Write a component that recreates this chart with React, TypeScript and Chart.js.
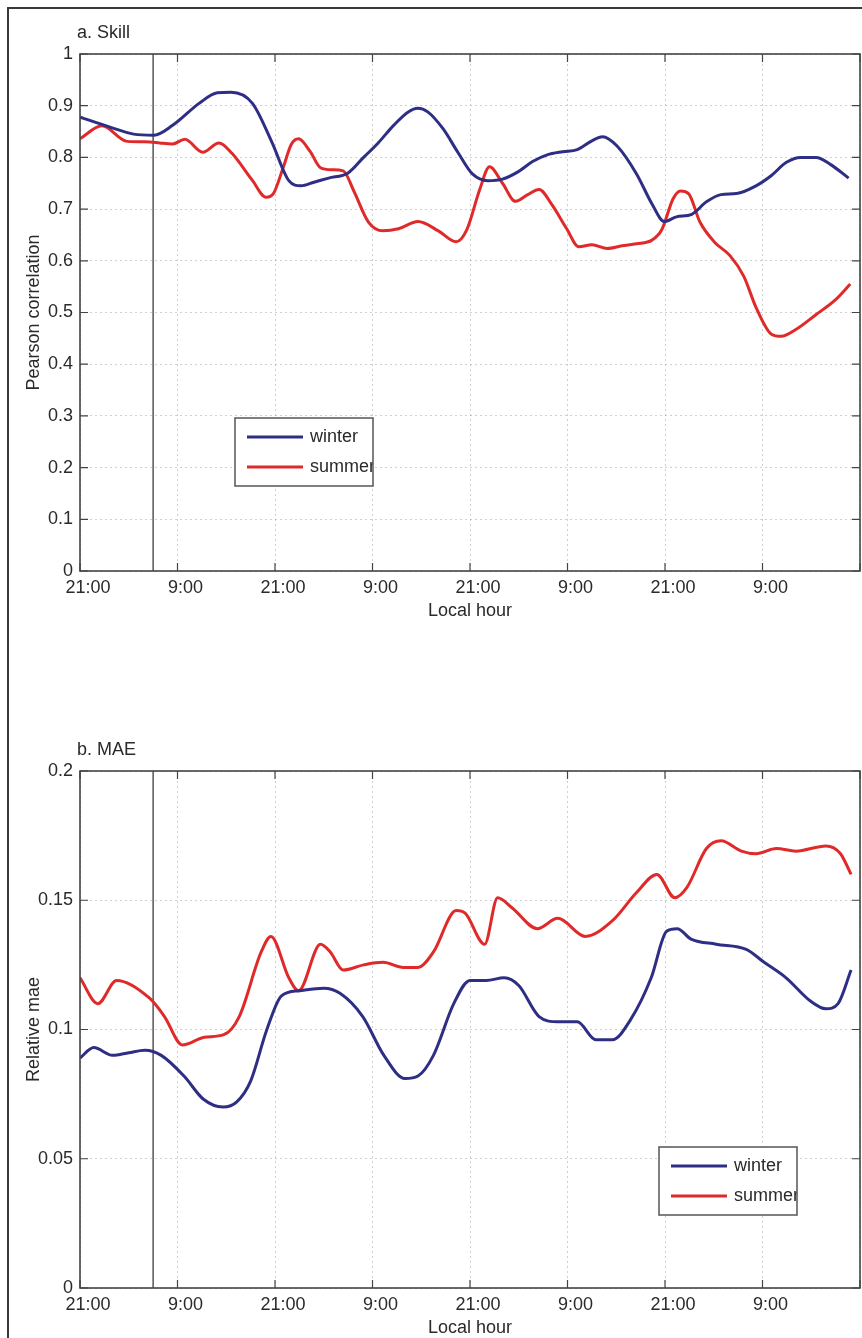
import React, { useEffect, useRef } from 'react';
import { Chart, registerables } from 'chart.js';

Chart.register(...registerables);

const FONT = "'Liberation Sans', Arial, Helvetica, sans-serif";
const TEXT_COLOR = '#2a2a2a';

// ---- shared categories / ticks ----
const seriesNames = ['winter', 'summer'];
const seriesColors = ['#2e2e84', '#e02a2a'];
const xTickHours = [0, 12, 24, 36, 48, 60, 72, 84, 96];
const xTickLabels = ['21:00', '9:00', '21:00', '9:00', '21:00', '9:00', '21:00', '9:00', ''];
const markerHour = 9;
const skillTicks = [0, 0.1, 0.2, 0.3, 0.4, 0.5, 0.6, 0.7, 0.8, 0.9, 1];
const skillTickLabels = ['0', '0.1', '0.2', '0.3', '0.4', '0.5', '0.6', '0.7', '0.8', '0.9', '1'];
const maeTicks = [0, 0.05, 0.1, 0.15, 0.2];
const maeTickLabels = ['0', '0.05', '0.1', '0.15', '0.2'];

// ---- panel a: Pearson correlation ----
const winterSkillHours = [0, 3.6, 6.6, 9.1, 11.4, 14.7, 16.9, 18.6, 21.2, 23.6, 25.7, 27.2, 28.8, 30.6, 33.0, 34.9, 36.7, 38.6, 40.4, 41.6, 42.8, 44.7, 46.5, 48.3, 50.2, 52.0, 53.9, 55.7, 57.5, 59.4, 61.2, 63.0, 64.3, 66.1, 68.5, 70.4, 71.9, 73.4, 75.3, 77.1, 78.9, 80.8, 83.2, 85.1, 86.9, 88.7, 90.6, 92.4, 94.6];
const winterSkill = [0.878, 0.859, 0.845, 0.843, 0.862, 0.905, 0.925, 0.926, 0.905, 0.83, 0.755, 0.745, 0.752, 0.76, 0.77, 0.8, 0.828, 0.862, 0.888, 0.895, 0.888, 0.855, 0.81, 0.768, 0.755, 0.758, 0.772, 0.792, 0.805, 0.811, 0.815, 0.832, 0.84, 0.822, 0.768, 0.71, 0.676, 0.685, 0.69, 0.714, 0.728, 0.73, 0.745, 0.765, 0.79, 0.8, 0.8, 0.786, 0.76];

const summerSkillHours = [0, 2.7, 5.8, 8.6, 9.8, 11.4, 12.9, 15.1, 17.1, 18.7, 21.2, 22.9, 23.8, 25.0, 26.0, 26.9, 28.3, 29.6, 31.0, 32.4, 33.7, 35.5, 37.3, 39.2, 41.6, 44.1, 46.3, 47.6, 49.2, 50.4, 52.0, 53.6, 55.1, 56.5, 58.1, 59.9, 61.4, 63.0, 64.9, 66.7, 68.5, 70.4, 71.6, 73.0, 73.9, 74.9, 76.3, 78.1, 80.0, 81.7, 83.2, 85.1, 86.3, 88.1, 90.6, 93.0, 94.8];
const summerSkill = [0.836, 0.861, 0.831, 0.83, 0.828, 0.826, 0.835, 0.81, 0.828, 0.808, 0.756, 0.723, 0.73, 0.78, 0.825, 0.836, 0.812, 0.78, 0.776, 0.774, 0.735, 0.675, 0.658, 0.662, 0.676, 0.658, 0.637, 0.66, 0.738, 0.782, 0.75, 0.715, 0.728, 0.738, 0.708, 0.662, 0.627, 0.631, 0.624, 0.629, 0.633, 0.64, 0.66, 0.72, 0.735, 0.73, 0.675, 0.636, 0.61, 0.57, 0.51, 0.458, 0.454, 0.467, 0.496, 0.525, 0.555];

// ---- panel b: relative MAE ----
const winterMaeHours = [0, 1.7, 4, 6, 8, 10, 12.8, 15.2, 17.6, 19.3, 21, 23, 24.8, 27, 30, 32, 34.8, 37.4, 40, 41.6, 43.5, 46, 48, 50, 52.2, 54, 56.5, 58.8, 61.2, 63.5, 65.5, 67.8, 70.3, 72.2, 73.5, 75.2, 78.3, 82, 84.2, 86.9, 89.9, 91.8, 93.3, 94.9];
const winterMae = [0.089, 0.093, 0.09, 0.091, 0.092, 0.09, 0.082, 0.073, 0.07, 0.072, 0.08, 0.1, 0.113, 0.115, 0.116, 0.114, 0.105, 0.09, 0.081, 0.082, 0.09, 0.11, 0.119, 0.119, 0.12, 0.117, 0.105, 0.103, 0.103, 0.096, 0.096, 0.104, 0.12, 0.138, 0.139, 0.135, 0.133, 0.131, 0.126, 0.12, 0.111, 0.108, 0.11, 0.123];

const summerMaeHours = [0, 2.2, 4.5, 8.6, 10.4, 12.6, 15.3, 17.7, 19.6, 22.3, 23.5, 25.7, 26.9, 29.6, 30.8, 32.4, 34.9, 37.3, 39.8, 41.6, 43.5, 46.3, 47.4, 49.8, 51.4, 53.2, 56.3, 58.8, 62.2, 65.5, 68.5, 71.0, 73.2, 74.7, 77.1, 78.9, 81.4, 83.2, 85.7, 88.1, 91.8, 93.6, 94.9];
const summerMae = [0.12, 0.11, 0.119, 0.112, 0.105, 0.094, 0.097, 0.098, 0.105, 0.13, 0.136, 0.12, 0.115, 0.133, 0.13, 0.123, 0.125, 0.126, 0.124, 0.124, 0.13, 0.146, 0.145, 0.133, 0.151, 0.147, 0.139, 0.143, 0.136, 0.142, 0.153, 0.16, 0.151, 0.155, 0.17, 0.173, 0.169, 0.168, 0.17, 0.169, 0.171, 0.168, 0.16];

const toPoints = (hours: number[], vals: number[]) => hours.map((h, i) => ({ x: h, y: vals[i] }));

const panelDecor = {
  id: 'panelDecor',
  afterDraw(chart: any, _args: any, opts: any) {
    const { ctx, chartArea } = chart;
    const { left, top, right, bottom } = chartArea;
    const xs = chart.scales.x;
    const ys = chart.scales.y;
    ctx.save();
    // inward tick marks
    ctx.strokeStyle = '#444';
    ctx.lineWidth = 1.2;
    ctx.beginPath();
    xs.ticks.forEach((t: any) => {
      const px = xs.getPixelForValue(t.value);
      ctx.moveTo(px, bottom); ctx.lineTo(px, bottom - 8);
      ctx.moveTo(px, top); ctx.lineTo(px, top + 8);
    });
    ys.ticks.forEach((t: any) => {
      const py = ys.getPixelForValue(t.value);
      ctx.moveTo(left, py); ctx.lineTo(left + 8, py);
      ctx.moveTo(right, py); ctx.lineTo(right - 8, py);
    });
    ctx.stroke();
    // axes box
    ctx.strokeStyle = '#444';
    ctx.lineWidth = 1.6;
    ctx.strokeRect(left, top, right - left, bottom - top);
    // panel title
    ctx.fillStyle = TEXT_COLOR;
    ctx.font = `18px ${FONT}`;
    ctx.textBaseline = 'middle';
    ctx.textAlign = 'left';
    ctx.fillText(opts.title, left - 3, top - 21);
    // legend
    const bx = left + opts.legendX;
    const by = top + opts.legendY;
    const bw = 138;
    const bh = 68;
    ctx.fillStyle = '#ffffff';
    ctx.fillRect(bx, by, bw, bh);
    ctx.save();
    ctx.beginPath();
    ctx.rect(bx, by, bw, bh);
    ctx.clip();
    let row = 0;
    chart.data.datasets.forEach((ds: any) => {
      if (!seriesNames.includes(ds.label)) return;
      const ly = by + 19 + row * 30;
      ctx.strokeStyle = ds.borderColor;
      ctx.lineWidth = 3;
      ctx.beginPath();
      ctx.moveTo(bx + 12, ly);
      ctx.lineTo(bx + 68, ly);
      ctx.stroke();
      ctx.fillStyle = TEXT_COLOR;
      ctx.font = `18px ${FONT}`;
      ctx.textBaseline = 'middle';
      ctx.fillText(ds.label, bx + 75, ly);
      row += 1;
    });
    ctx.restore();
    ctx.strokeStyle = '#555';
    ctx.lineWidth = 1.5;
    ctx.strokeRect(bx, by, bw, bh);
    ctx.restore();
  },
};

type PanelProps = {
  top: number;
  padTop: number;
  title: string;
  yTitle: string;
  yTicks: number[];
  yTickLabels: string[];
  winter: { x: number; y: number }[];
  summer: { x: number; y: number }[];
  legendX: number;
  legendY: number;
};

function Panel(p: PanelProps) {
  const ref = useRef<HTMLCanvasElement | null>(null);
  const width = 866;
  const height = p.padTop + 517 + 79;
  useEffect(() => {
    if (!ref.current) return;
    const yMin = p.yTicks[0];
    const yMax = p.yTicks[p.yTicks.length - 1];
    const gridCommon = {
      color: 'rgba(120,120,120,0.35)',
      lineWidth: 1,
      drawTicks: false,
      borderDash: [2, 3],
    };
    const chart = new Chart(ref.current, {
      type: 'line',
      data: {
        datasets: [
          {
            label: seriesNames[0],
            data: p.winter,
            borderColor: seriesColors[0],
            backgroundColor: seriesColors[0],
            borderWidth: 3,
            pointRadius: 0,
            cubicInterpolationMode: 'monotone',
            order: 1,
          },
          {
            label: seriesNames[1],
            data: p.summer,
            borderColor: seriesColors[1],
            backgroundColor: seriesColors[1],
            borderWidth: 3,
            pointRadius: 0,
            cubicInterpolationMode: 'monotone',
            order: 2,
          },
          {
            label: 'start',
            data: [
              { x: markerHour, y: yMin },
              { x: markerHour, y: yMax },
            ],
            borderColor: '#555',
            borderWidth: 1.5,
            pointRadius: 0,
            order: 3,
          },
        ],
      },
      options: {
        responsive: false,
        animation: false,
        devicePixelRatio: 1,
        layout: { padding: { left: 0, top: p.padTop, right: 2, bottom: 0 } },
        plugins: {
          legend: { display: false },
          tooltip: { enabled: false },
          title: { display: false },
          panelDecor: { title: p.title, legendX: p.legendX, legendY: p.legendY },
        } as any,
        scales: {
          x: {
            type: 'linear',
            min: 0,
            max: 96,
            afterBuildTicks: (scale: any) => {
              scale.ticks = xTickHours.map((v) => ({ value: v }));
            },
            afterFit: (scale: any) => {
              scale.height = 79;
            },
            ticks: {
              autoSkip: false,
              maxRotation: 0,
              padding: 6,
              labelOffset: 8,
              color: TEXT_COLOR,
              font: { family: FONT, size: 18 },
              callback: (v: any) => {
                const i = xTickHours.indexOf(Number(v));
                return i >= 0 ? xTickLabels[i] : '';
              },
            },
            grid: gridCommon,
            border: { display: false, dash: [2, 3] },
            title: {
              display: true,
              text: 'Local hour',
              color: TEXT_COLOR,
              font: { family: FONT, size: 18 },
              padding: { top: 0, bottom: 28 },
            },
          },
          y: {
            type: 'linear',
            min: yMin,
            max: yMax,
            afterBuildTicks: (scale: any) => {
              scale.ticks = p.yTicks.map((v) => ({ value: v }));
            },
            afterFit: (scale: any) => {
              scale.width = 80;
            },
            ticks: {
              autoSkip: false,
              padding: 7,
              color: TEXT_COLOR,
              font: { family: FONT, size: 18 },
              callback: (v: any) => {
                const i = p.yTicks.findIndex((t) => Math.abs(t - Number(v)) < 1e-9);
                return i >= 0 ? p.yTickLabels[i] : '';
              },
            },
            grid: gridCommon,
            border: { display: false, dash: [2, 3] },
            title: {
              display: true,
              text: p.yTitle,
              color: TEXT_COLOR,
              font: { family: FONT, size: 18 },
              padding: { top: 23, bottom: 0 },
            },
          },
        },
      },
      plugins: [panelDecor],
    } as any);
    return () => chart.destroy();
  }, []);
  return (
    <canvas
      ref={ref}
      width={width}
      height={height}
      style={{ position: 'absolute', left: 0, top: p.top, width, height, display: 'block' }}
    />
  );
}

export default function App() {
  return (
    <div
      style={{
        position: 'absolute',
        left: 0,
        top: 0,
        width: 862,
        height: 1338,
        overflow: 'hidden',
        background: '#ffffff',
      }}
    >
      <div
        style={{
          position: 'absolute',
          left: 7,
          top: 7,
          width: 900,
          height: 1400,
          border: '2px solid #3a3a3a',
          boxSizing: 'border-box',
        }}
      />
      <Panel
        top={0}
        padTop={54}
        title="a. Skill"
        yTitle="Pearson correlation"
        yTicks={skillTicks}
        yTickLabels={skillTickLabels}
        winter={toPoints(winterSkillHours, winterSkill)}
        summer={toPoints(summerSkillHours, summerSkill)}
        legendX={155}
        legendY={364}
      />
      <Panel
        top={690}
        padTop={81}
        title="b. MAE"
        yTitle="Relative mae"
        yTicks={maeTicks}
        yTickLabels={maeTickLabels}
        winter={toPoints(winterMaeHours, winterMae)}
        summer={toPoints(summerMaeHours, summerMae)}
        legendX={579}
        legendY={376}
      />
    </div>
  );
}
